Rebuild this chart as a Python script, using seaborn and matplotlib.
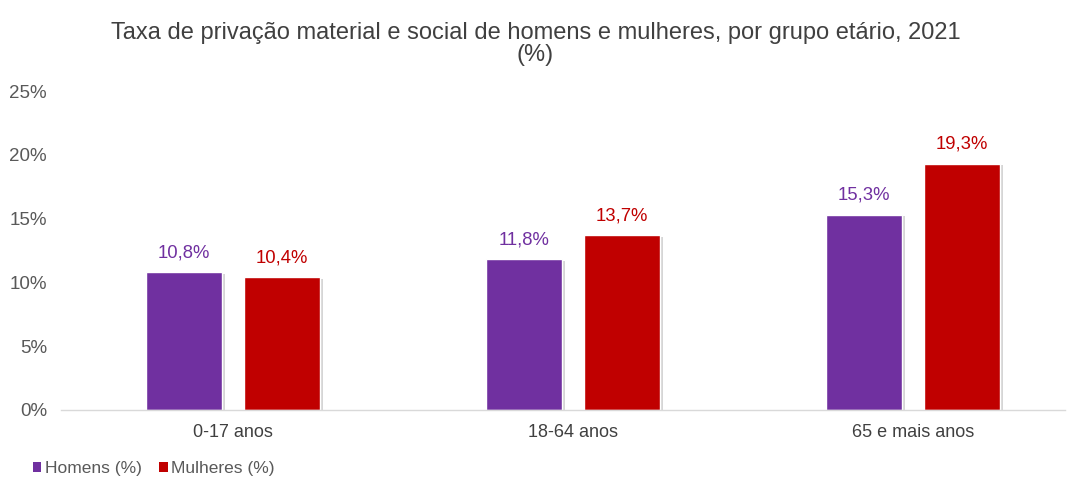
import matplotlib
matplotlib.use("Agg")
import matplotlib.pyplot as plt
import matplotlib.patheffects as pe
from matplotlib.patches import Patch
import seaborn as sns
import pandas as pd

categories = ["0-17 anos", "18-64 anos", "65 e mais anos"]
homens = [10.8, 11.8, 15.3]
mulheres = [10.4, 13.7, 19.3]
series_names = ["Homens (%)", "Mulheres (%)"]
yticks = [0, 5, 10, 15, 20, 25]
title = "Taxa de privação material e social de homens e mulheres, por grupo etário, 2021\n(%)"

colors = ["#7030A0", "#C00000"]

df = pd.DataFrame({
    "grupo": categories * 2,
    "valor": homens + mulheres,
    "serie": [series_names[0]] * 3 + [series_names[1]] * 3,
})

sns.set_theme(style="white")
plt.rcParams["font.family"] = ["Liberation Sans", "DejaVu Sans"]

fig = plt.figure(figsize=(10.71, 4.84), dpi=100)
W, H = 1071, 484
left_px, right_px, top_px, bot_px = 61, 1065, 91, 410
ax = fig.add_axes([left_px / W, 1 - bot_px / H, (right_px - left_px) / W, (bot_px - top_px) / H])

sns.barplot(data=df, x="grupo", y="valor", hue="serie", palette=colors,
            width=0.578, gap=0.225, ax=ax, legend=False, saturation=1)

for p in ax.patches:
    p.set_path_effects([pe.SimplePatchShadow(offset=(2, -1), shadow_rgbFace="#888888", alpha=0.35), pe.Normal()])

ax.set_ylim(0, 25)
x0 = -0.5 - 2 / 340
x1 = (right_px - 233) / 340
ax.set_xlim(x0, x1)
ax.set_yticks(yticks)
ax.set_yticklabels([f"{v}%" for v in yticks], color="#595959", fontsize=13.5)
ax.tick_params(axis="y", length=0, pad=10)
ax.tick_params(axis="x", length=0, pad=10, labelsize=13, labelcolor="#404040")
ax.set_xticks(range(len(categories)))
ax.set_xticklabels(categories)
ax.set_xticks([-0.5, 0.5, 1.5], minor=True)
ax.tick_params(axis="x", which="minor", length=5, color="#D0D0D0", width=1)
ax.set_xlabel("")
ax.set_ylabel("")
for s in ["top", "right", "left"]:
    ax.spines[s].set_visible(False)
ax.spines["bottom"].set_color("#D9D9D9")
ax.spines["bottom"].set_linewidth(1)

for container, col in zip(ax.containers, colors):
    labels = [f"{v:.1f}%".replace(".", ",") for v in container.datavalues]
    ax.bar_label(container, labels=labels, padding=8, color=col, fontsize=13.3)

fig.text(0.5, 1 - 44 / H, title, ha="center", va="center", fontsize=17,
         color="#404040", linespacing=1.05)

handles = [Patch(facecolor=c, edgecolor="none") for c in colors]
fig.legend(handles, series_names, loc="center left", bbox_to_anchor=(17 / W, 1 - 469 / H),
           ncol=2, frameon=False, fontsize=12.5, handlelength=0.5, handleheight=0.5,
           handletextpad=0.2, columnspacing=1.0, labelcolor="#595959")

fig.savefig("out.png", dpi=100)
